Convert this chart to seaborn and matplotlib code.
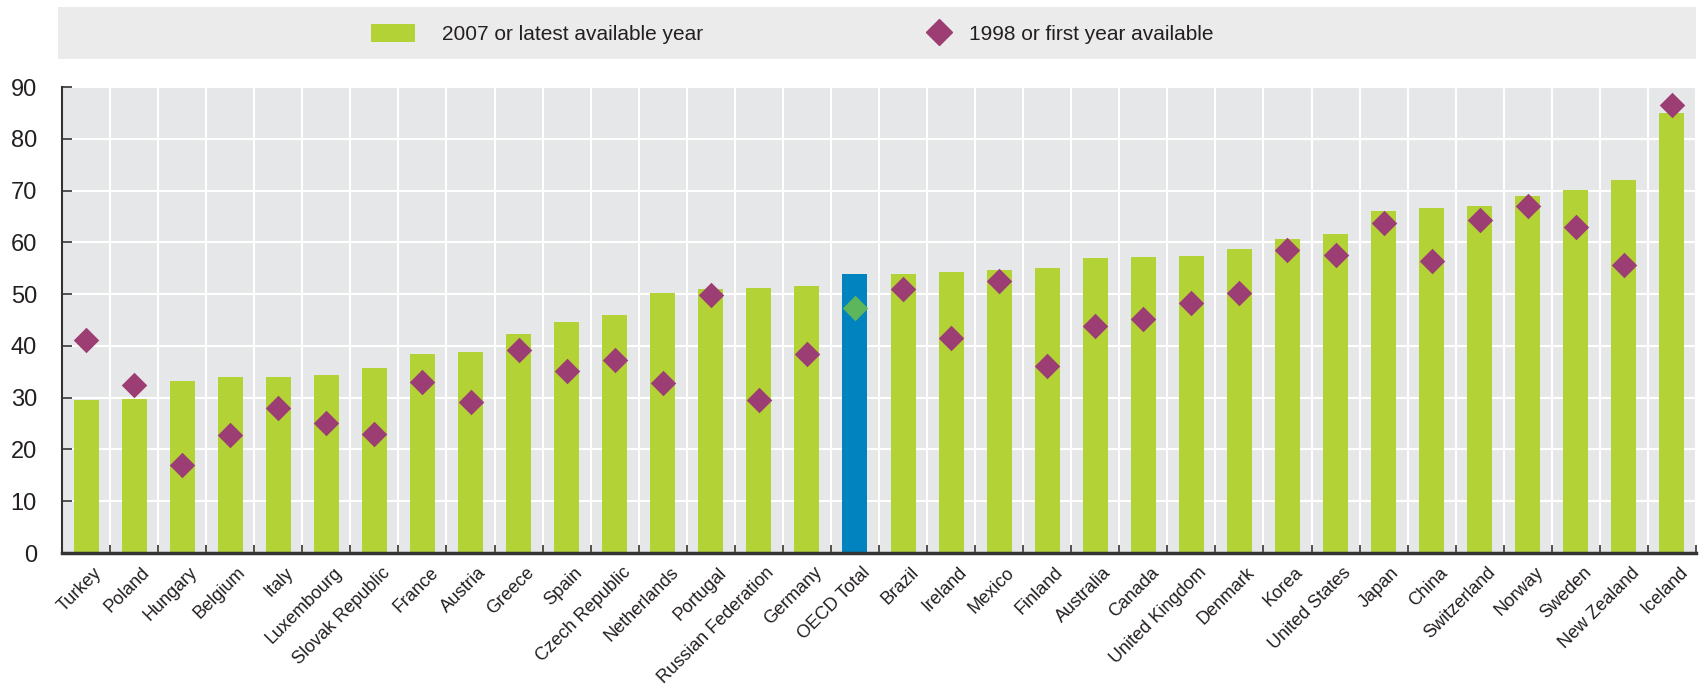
import numpy as np
import pandas as pd
import seaborn as sns
import matplotlib.pyplot as plt
import matplotlib.transforms as mtrans
from matplotlib.patches import Patch, Rectangle
from matplotlib.lines import Line2D

countries = ['Turkey', 'Poland', 'Hungary', 'Belgium', 'Italy', 'Luxembourg',
             'Slovak Republic', 'France', 'Austria', 'Greece', 'Spain',
             'Czech Republic', 'Netherlands', 'Portugal', 'Russian Federation',
             'Germany', 'OECD Total', 'Brazil', 'Ireland', 'Mexico', 'Finland',
             'Australia', 'Canada', 'United Kingdom', 'Denmark', 'Korea',
             'United States', 'Japan', 'China', 'Switzerland', 'Norway',
             'Sweden', 'New Zealand', 'Iceland']
latest = [29.5, 29.8, 33.3, 33.9, 33.9, 34.4, 35.8, 38.5, 38.8, 42.2, 44.7,
          46.0, 50.2, 51.0, 51.2, 51.5, 53.9, 53.9, 54.2, 54.7, 55.0, 56.9,
          57.2, 57.4, 58.8, 60.6, 61.7, 66.0, 66.6, 67.1, 69.0, 70.1, 72.0, 85.0]
first = [41.1, 32.4, 16.9, 22.7, 28.1, 25.2, 23.0, 33.1, 29.2, 39.2, 35.2,
         37.2, 32.9, 49.8, 29.6, 38.5, 47.4, 50.9, 41.5, 52.6, 36.2, 43.9,
         45.1, 48.3, 50.3, 58.6, 57.6, 63.7, 56.4, 64.3, 67.1, 63.0, 55.6, 86.5]
yticks = list(range(0, 91, 10))

GREEN = '#B2D235'
BLUE = '#0083BF'
PURPLE = '#9C3D73'
DGREEN = '#5DB65B'
TXT = '#231F20'

plt.rcParams['font.family'] = ['Liberation Sans', 'DejaVu Sans']

df = pd.DataFrame({'country': countries, 'latest': latest, 'first': first})
bar_pal = {c: (BLUE if c == 'OECD Total' else GREEN) for c in countries}
dot_pal = {c: (DGREEN if c == 'OECD Total' else PURPLE) for c in countries}

fig = plt.figure(figsize=(17.07, 6.9), dpi=100)
ax = fig.add_axes([62 / 1707, 1 - 553 / 690, 1634 / 1707, 466 / 690])
ax.set_facecolor('#E6E7E8')

sns.barplot(data=df, x='country', y='latest', hue='country', palette=bar_pal,
            width=0.52, saturation=1, legend=False, ax=ax, zorder=2)
sns.stripplot(data=df, x='country', y='first', hue='country', palette=dot_pal,
              marker='D', size=13, jitter=False, linewidth=0, legend=False,
              ax=ax, zorder=3)

ax.set_xlim(-0.5, len(countries) - 0.5)
ax.set_ylim(0, 90)
ax.set_yticks(yticks)
ax.set_xlabel('')
ax.set_ylabel('')

# grid: white lines between categories and at each y tick
ax.set_xticks(np.arange(-0.5, len(countries), 1), minor=True)
ax.grid(False)
ax.grid(axis='y', which='major', color='white', lw=1.5, zorder=0)
ax.grid(axis='x', which='minor', color='white', lw=1.5, zorder=0)
ax.set_axisbelow(True)

for s in ['top', 'right']:
    ax.spines[s].set_visible(False)
ax.spines['left'].set_color('#333333')
ax.spines['left'].set_linewidth(1.5)
ax.spines['bottom'].set_color('#333333')
ax.spines['bottom'].set_linewidth(2.5)
ax.spines['bottom'].set_zorder(5)

ax.tick_params(axis='y', direction='in', length=7, width=1.2, color='#333333',
               pad=18, labelsize=17, labelcolor=TXT)
ax.tick_params(axis='x', which='major', length=0, pad=8, labelsize=13,
               labelcolor=TXT)
ax.tick_params(axis='x', which='minor', direction='in', length=6, width=1.2,
               color='#333333')

ax.set_xticks(range(len(countries)))
ax.set_xticklabels(countries, rotation=45, ha='right', rotation_mode='anchor')
off = mtrans.ScaledTranslation(0.07, 0, fig.dpi_scale_trans)
for lab in ax.get_xticklabels():
    lab.set_transform(lab.get_transform() + off)

# legend band
fig.patches.append(Rectangle((58 / 1707, 1 - 59 / 690), 1638 / 1707, 52 / 690,
                             transform=fig.transFigure, facecolor='#EBEBEB',
                             edgecolor='none', zorder=0))
fig.legend(handles=[Patch(facecolor=GREEN, edgecolor='none')],
           labels=['2007 or latest available year'], loc='center left',
           bbox_to_anchor=(371 / 1707, 1 - 34 / 690), frameon=False,
           fontsize=15, handlelength=2.1, handleheight=0.95, handletextpad=1.3,
           borderpad=0, borderaxespad=0, labelcolor=TXT)
fig.legend(handles=[Line2D([], [], marker='D', color=PURPLE, ls='', markersize=13)],
           labels=['1998 or first year available'], loc='center left',
           bbox_to_anchor=(929 / 1707, 1 - 34 / 690), frameon=False,
           fontsize=15, handlelength=1.0, handletextpad=0.9,
           borderpad=0, borderaxespad=0, labelcolor=TXT)

fig.savefig('out.png', dpi=100)
